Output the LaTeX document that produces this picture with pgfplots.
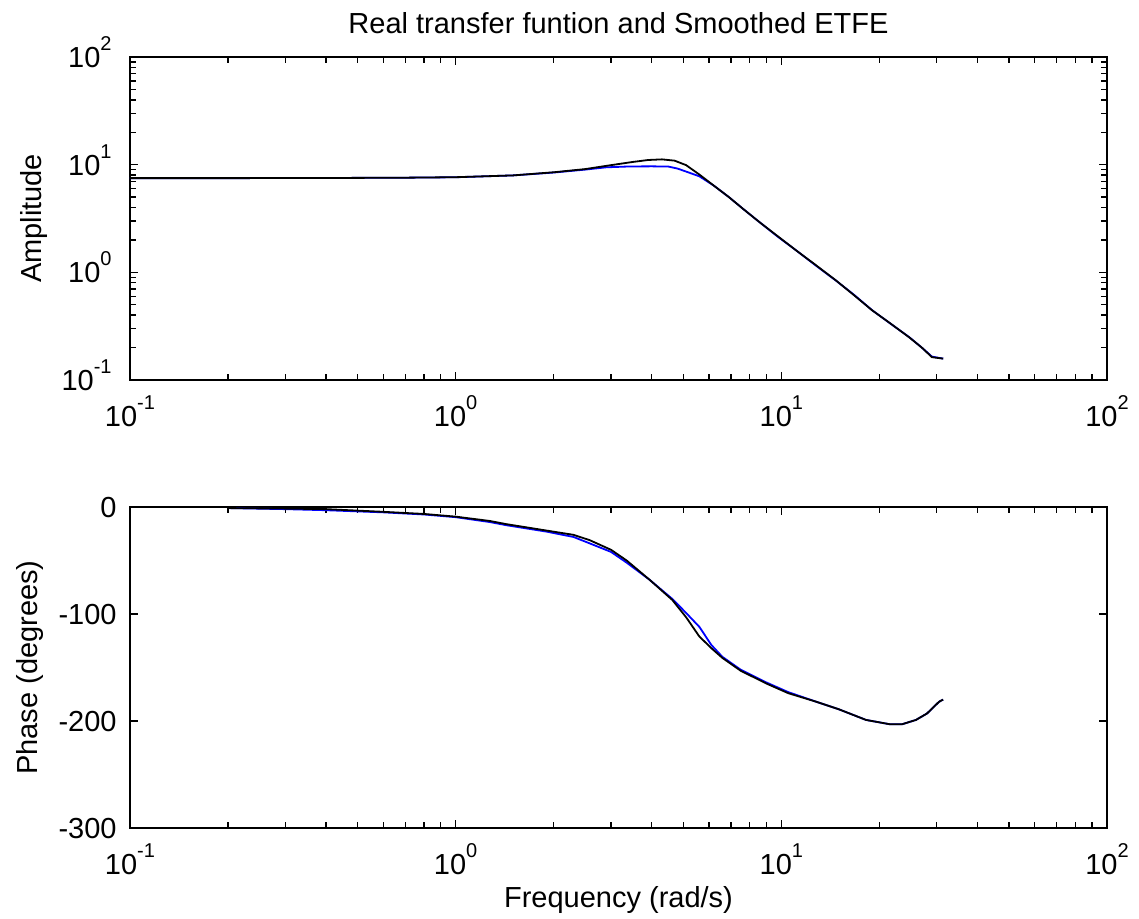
\documentclass[border=0pt]{standalone}
\usepackage{pgfplots}
\pgfplotsset{compat=1.18}
\usepackage{fontspec}
\setmainfont{Liberation Sans}
\newcommand{\tpow}[1]{10\raisebox{8.5pt}{\fontsize{10}{10}\selectfont #1}}
\pgfplotsset{
  mlstyle/.style={
    scale only axis,
    width=488.5pt,
    axis line style={line width=0.9pt},
    every tick/.style={black, line width=0.7pt},
    major tick length=4pt,
    minor tick length=3pt,
    tick align=inside,
    xmin=0.1, xmax=100,
    xtick={0.1,1,10,100},
    xticklabels={\tpow{-1},\tpow{0},\tpow{1},\tpow{2}},
    xticklabel style={anchor=base, yshift=-23pt, inner sep=0pt},
    every tick label/.append style={font=\fontsize{14.5}{16}\selectfont},
    label style={font=\fontsize{14.5}{16}\selectfont},
    clip=false,
  },
}
\begin{document}
\fontsize{14.5}{16}\selectfont
\begin{tikzpicture}
\begin{loglogaxis}[mlstyle,
  at={(65pt,-28.5pt)}, anchor=north west,
  height=161.5pt,
  ymin=0.1, ymax=100,
  ytick={0.1,1,10,100},
  yticklabels={\tpow{-1},\tpow{0},\tpow{1},\tpow{2}},
  yticklabel style={anchor=base east, xshift=-9pt, yshift=-5.25pt, inner sep=0pt},
  ylabel={Amplitude},
  ylabel style={at={(axis description cs:-0.098,0.5)}, anchor=center},
  title={Real transfer funtion and Smoothed ETFE},
  title style={at={(axis description cs:0.5,1)}, anchor=base, yshift=5.5pt, inner sep=0pt, font=\fontsize{14.5}{16}\selectfont},
]
\addplot[blue, line width=0.9pt] coordinates {
(0.1,7.50) (0.2,7.50) (0.4,7.52) (0.7,7.57) (1.0,7.64) (1.5,7.95) (2.0,8.45)
(2.5,9.0) (2.9,9.45) (3.4,9.62) (4.0,9.65) (4.5,9.6) (4.8,9.2) (5.2,8.45)
(5.6,7.8) (6.2,6.4) (6.9,5.0) (7.7,3.8) (8.6,2.9) (9.7,2.17) (11.1,1.60)
(12.7,1.17) (14.7,0.84) (16.7,0.62) (19.0,0.445) (21.6,0.335) (24.7,0.25)
(27.0,0.20) (29.0,0.165) (31.4,0.158)
};
\addplot[black, line width=0.9pt] coordinates {
(0.1,7.50) (0.2,7.50) (0.4,7.52) (0.7,7.57) (1.0,7.65) (1.5,7.95) (2.0,8.50)
(2.5,9.10) (3.0,9.90) (3.5,10.6) (3.9,11.05) (4.3,11.2) (4.7,10.9) (5.1,9.9)
(5.6,8.1) (6.2,6.4) (6.9,5.0) (7.7,3.8) (8.6,2.9) (9.7,2.19) (11.1,1.60)
(12.7,1.18) (14.7,0.843) (16.7,0.615) (19.0,0.444) (21.6,0.336) (24.7,0.249)
(27.0,0.20) (29.0,0.163) (31.4,0.158)
};
\end{loglogaxis}
\begin{semilogxaxis}[mlstyle,
  at={(65pt,-253.5pt)}, anchor=north west,
  height=160.5pt,
  ymin=-300, ymax=0,
  ytick={-300,-200,-100,0},
  yticklabels={-300,-200,-100,0},
  yticklabel style={anchor=base east, xshift=-6.5pt, yshift=-5.25pt, inner sep=0pt},
  ylabel={Phase (degrees)},
  ylabel style={at={(axis description cs:-0.102,0.5)}, anchor=center},
  xlabel={Frequency (rad/s)},
  xlabel style={at={(axis description cs:0.5,0)}, anchor=base, yshift=-39.5pt},
]
\addplot[blue, line width=0.9pt] coordinates {
(0.2,-1) (0.3,-2) (0.4,-3) (0.6,-5) (0.8,-7) (1.0,-9.5) (1.27,-14) (1.43,-17)
(1.9,-23) (2.3,-28) (2.58,-34) (3.0,-42) (3.35,-52) (3.94,-68) (4.63,-86)
(5.1,-99) (5.6,-112) (6.1,-129) (6.59,-140) (7.5,-152) (9.0,-164) (10.5,-173)
(12.8,-182) (15.0,-189) (18.2,-199) (21.5,-203) (23.5,-203) (25.9,-199)
(28.0,-193) (30.5,-182) (31.4,-180)
};
\addplot[black, line width=0.9pt] coordinates {
(0.2,-1) (0.3,-1.5) (0.4,-2) (0.6,-4.5) (0.8,-6.5) (1.0,-9) (1.27,-13) (1.43,-16)
(1.9,-22) (2.3,-26) (2.58,-31) (3.0,-40) (3.35,-50) (3.94,-68) (4.63,-87)
(5.1,-103) (5.6,-121) (6.1,-132) (6.59,-141) (7.5,-153) (9.0,-165) (10.5,-174)
(12.8,-182) (15.0,-189) (18.2,-199) (21.5,-203) (23.5,-203) (25.9,-199)
(28.0,-193) (30.5,-182) (31.4,-180)
};
\end{semilogxaxis}
\pgfresetboundingbox
\path (0,0) rectangle (569.5pt,-459.5pt);
\end{tikzpicture}
\end{document}
